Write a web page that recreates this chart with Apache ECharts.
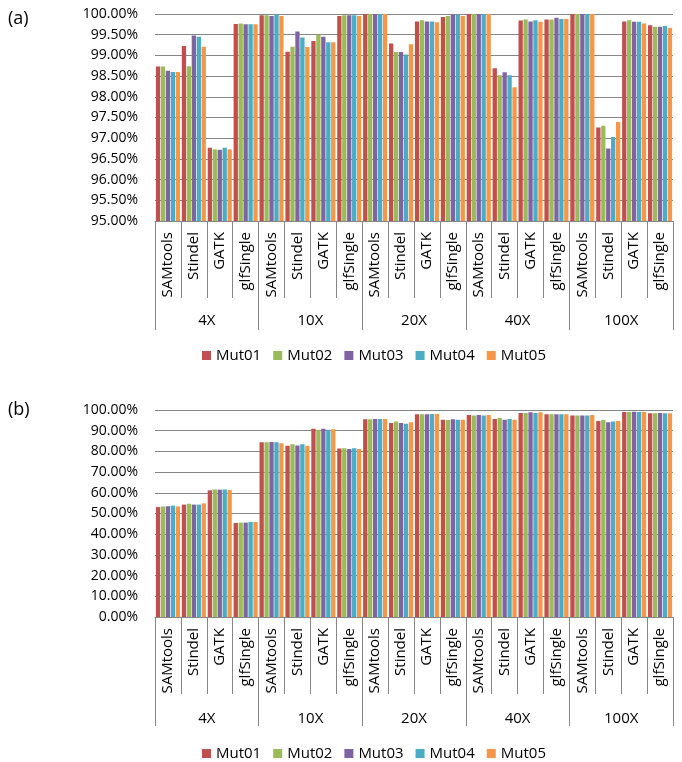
<!DOCTYPE html>
<html>
<head>
<meta charset="utf-8">
<script src="https://cdn.jsdelivr.net/npm/echarts@6/dist/echarts.min.js"></script>
<style>
  html, body { margin: 0; padding: 0; background: #fff; }
  #chart { width: 682px; height: 762px; }
</style>
</head>
<body>
<div id="chart"></div>
<script>
const tools = ['SAMtools', 'Stindel', 'GATK', 'glfSingle'];
const depths = ['4X', '10X', '20X', '40X', '100X'];
const seriesNames = ['Mut01', 'Mut02', 'Mut03', 'Mut04', 'Mut05'];
const colors = ['#C0504D', '#9BBB59', '#8064A2', '#4BACC6', '#F79646'];

// (a) values, order: 4X SAMtools, Stindel, GATK, glfSingle, 10X ...
const mut01A = [98.73, 99.23, 96.77, 99.76, 99.97, 99.09, 99.35, 99.95, 100.00, 99.29, 99.82, 99.93, 100.00, 98.69, 99.84, 99.87, 100.00, 97.26, 99.82, 99.73];
const mut02A = [98.73, 98.74, 96.73, 99.77, 99.97, 99.21, 99.50, 99.97, 100.00, 99.08, 99.85, 99.95, 100.00, 98.52, 99.87, 99.87, 100.00, 97.30, 99.85, 99.69];
const mut03A = [98.63, 99.48, 96.72, 99.75, 99.95, 99.58, 99.45, 99.97, 100.00, 99.08, 99.82, 99.98, 100.00, 98.59, 99.82, 99.91, 100.00, 96.75, 99.81, 99.69];
const mut04A = [98.60, 99.45, 96.77, 99.75, 99.99, 99.43, 99.32, 99.97, 100.00, 99.02, 99.82, 99.98, 100.00, 98.52, 99.85, 99.88, 100.00, 97.03, 99.81, 99.71];
const mut05A = [98.60, 99.21, 96.73, 99.75, 99.95, 99.20, 99.32, 99.95, 100.00, 99.27, 99.80, 99.95, 100.00, 98.23, 99.81, 99.88, 100.00, 97.39, 99.77, 99.66];

// (b) values
const mut01B = [53.1, 54.3, 61.2, 45.4, 84.4, 82.7, 90.9, 81.4, 95.5, 93.7, 97.9, 95.3, 97.6, 95.7, 98.6, 97.9, 97.4, 94.7, 99.0, 98.4];
const mut02B = [53.4, 54.7, 61.6, 45.6, 84.4, 83.5, 90.5, 81.5, 95.5, 94.4, 97.9, 95.2, 97.4, 96.1, 98.6, 97.9, 97.4, 95.2, 99.0, 98.4];
const mut03B = [53.5, 54.3, 61.5, 45.6, 84.6, 82.8, 90.9, 81.1, 95.7, 93.7, 97.9, 95.5, 97.6, 95.3, 98.9, 97.9, 97.4, 94.1, 99.2, 98.6];
const mut04B = [53.8, 54.3, 61.6, 45.9, 84.4, 83.5, 90.5, 81.5, 95.7, 93.3, 98.1, 95.3, 97.4, 95.7, 98.6, 97.9, 97.4, 94.4, 99.0, 98.4];
const mut05B = [53.4, 54.9, 61.3, 45.9, 83.9, 82.7, 90.7, 81.1, 95.7, 94.1, 98.1, 95.3, 97.6, 95.3, 98.9, 97.9, 97.6, 94.7, 99.0, 98.4];

const dataA = [mut01A, mut02A, mut03A, mut04A, mut05A];
const dataB = [mut01B, mut02B, mut03B, mut04B, mut05B];
const categories = depths.flatMap(() => tools);

const FONT = 'Open Sans';
const GRAY = '#868686';

const grids = [
  { left: 155, width: 518, top: 14, height: 207 },
  { left: 155, width: 518, top: 410, height: 207 }
];

function toolAxis (gi) {
  return {
    gridIndex: gi,
    type: 'category',
    position: 'bottom',
    data: categories,
    axisLine: { show: true, lineStyle: { color: GRAY } },
    axisTick: { show: true, interval: 0, length: 77, lineStyle: { color: GRAY } },
    axisLabel: { interval: 0, rotate: 90, margin: 11, fontSize: 15, fontFamily: FONT, color: '#000' },
    splitLine: { show: false }
  };
}
function depthAxis (gi, margin) {
  return {
    gridIndex: gi,
    type: 'category',
    position: 'bottom',
    data: depths,
    axisLine: { show: false },
    axisTick: { show: true, interval: 0, length: 109, lineStyle: { color: GRAY } },
    axisLabel: { interval: 0, margin: margin, fontSize: 15, fontFamily: FONT, color: '#000' },
    splitLine: { show: false }
  };
}
function valueAxis (gi, min, max, interval) {
  return {
    gridIndex: gi,
    type: 'value',
    min: min,
    max: max,
    interval: interval,
    axisLine: { show: false },
    axisTick: { show: false },
    splitLine: { lineStyle: { color: GRAY } },
    axisLabel: {
      margin: 17, fontSize: 14, fontFamily: FONT, color: '#000',
      formatter: v => v.toFixed(2) + '%'
    }
  };
}

const series = [];
[dataA, dataB].forEach((set, p) => {
  set.forEach((vals, i) => {
    series.push({
      name: seriesNames[i],
      type: 'bar',
      xAxisIndex: p * 2,
      yAxisIndex: p,
      data: vals,
      barGap: '15%',
      barCategoryGap: '7%',
      itemStyle: { color: colors[i] }
    });
  });
});

function legend (top) {
  return {
    top: top,
    left: 197,
    itemWidth: 9,
    itemHeight: 9,
    itemGap: 12,
    icon: 'rect',
    data: seriesNames,
    textStyle: { fontSize: 15, fontFamily: FONT, color: '#000' }
  };
}

const chart = echarts.init(document.getElementById('chart'));
chart.setOption({
  animation: false,
  color: colors,
  title: [
    { text: '(a)', left: 3, top: 5, textStyle: { fontSize: 18, fontWeight: 'normal', fontFamily: FONT, color: '#000' } },
    { text: '(b)', left: 3, top: 396, textStyle: { fontSize: 18, fontWeight: 'normal', fontFamily: FONT, color: '#000' } }
  ],
  legend: [legend(343), legend(741)],
  grid: grids,
  xAxis: [toolAxis(0), depthAxis(0, 92), toolAxis(1), depthAxis(1, 94)],
  yAxis: [valueAxis(0, 95, 100, 0.5), valueAxis(1, 0, 100, 10)],
  series: series
});
</script>
</body>
</html>
